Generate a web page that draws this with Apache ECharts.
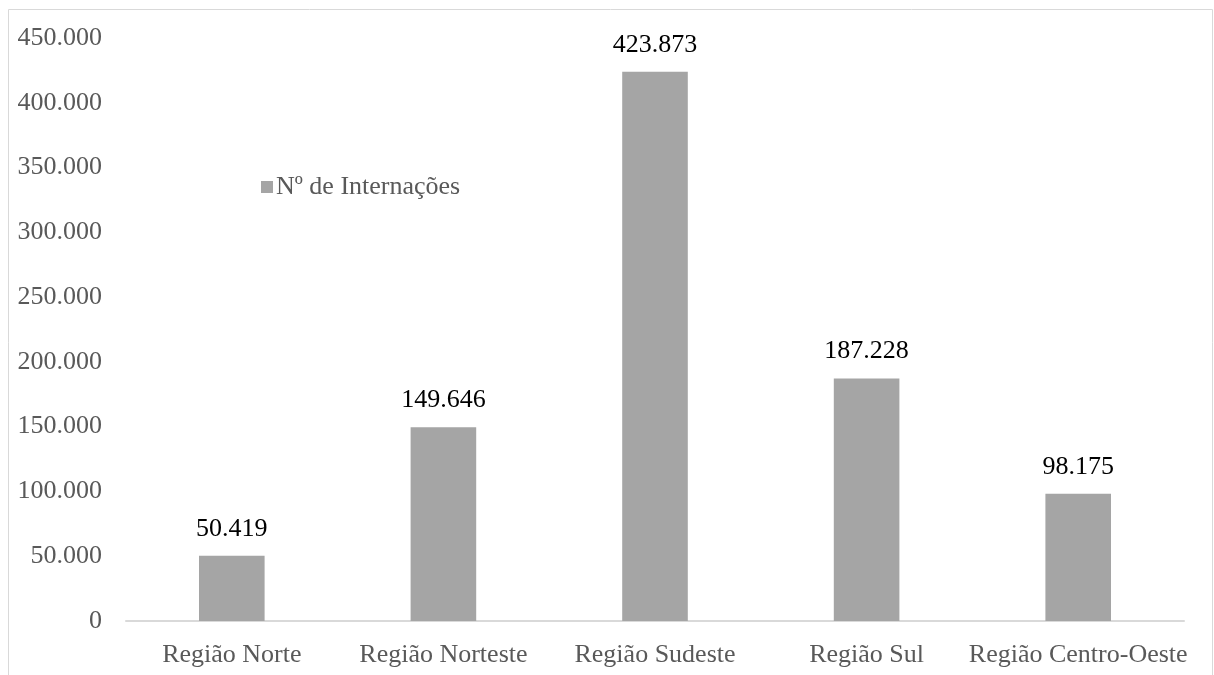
<!DOCTYPE html>
<html>
<head>
<meta charset="utf-8">
<script src="https://cdn.jsdelivr.net/npm/echarts@6/dist/echarts.min.js"></script>
<style>
  html, body { margin: 0; padding: 0; background: #fff; }
  #chart { width: 1214px; height: 675px; }
</style>
</head>
<body>
<div id="chart"></div>
<script>
const categories = ['Região Norte', 'Região Norteste', 'Região Sudeste', 'Região Sul', 'Região Centro-Oeste']
const internacoes = [50419, 149646, 423873, 187228, 98175]
const seriesName = 'Nº de Internações'

const fmt = (v) => String(v).replace(/\B(?=(\d{3})+(?!\d))/g, '.')
const font = '"Liberation Serif", "Times New Roman", serif'

const myChart = echarts.init(document.getElementById('chart'))
myChart.setOption({
  textStyle: { fontFamily: font },
  animation: false,
  graphic: [
    {
      type: 'rect',
      shape: { x: 8.5, y: 9.5, width: 1204, height: 700 },
      style: { fill: 'none', stroke: '#d9d9d9', lineWidth: 1 },
      silent: true,
    },
  ],
  legend: {
    left: 256,
    top: 169,
    icon: 'rect',
    itemWidth: 12,
    itemHeight: 12,
    itemGap: 6,
    textStyle: { fontFamily: font, fontSize: 26, color: '#595959', padding: [0, 0, 0, -2] },
    data: [seriesName],
  },
  grid: {
    left: 126,
    right: 30,
    top: 38,
    bottom: 54,
  },
  xAxis: {
    type: 'category',
    data: categories,
    axisLine: { lineStyle: { color: '#d9d9d9', width: 2 } },
    axisTick: { show: false },
    axisLabel: { fontFamily: font, fontSize: 26, color: '#595959', margin: 21, interval: 0 },
  },
  yAxis: {
    type: 'value',
    min: 0,
    max: 450000,
    interval: 50000,
    splitLine: { show: false },
    axisLine: { show: false },
    axisTick: { show: false },
    axisLabel: {
      fontFamily: font,
      fontSize: 26,
      color: '#595959',
      margin: 24,
      formatter: (v) => fmt(v),
    },
  },
  series: [
    {
      name: seriesName,
      type: 'bar',
      barWidth: '31%',
      itemStyle: { color: '#a5a5a5' },
      label: {
        show: true,
        position: 'top',
        distance: 14,
        fontFamily: font,
        fontSize: 26,
        color: '#000',
        formatter: (p) => fmt(p.value),
      },
      data: internacoes,
    },
  ],
})
</script>
</body>
</html>
